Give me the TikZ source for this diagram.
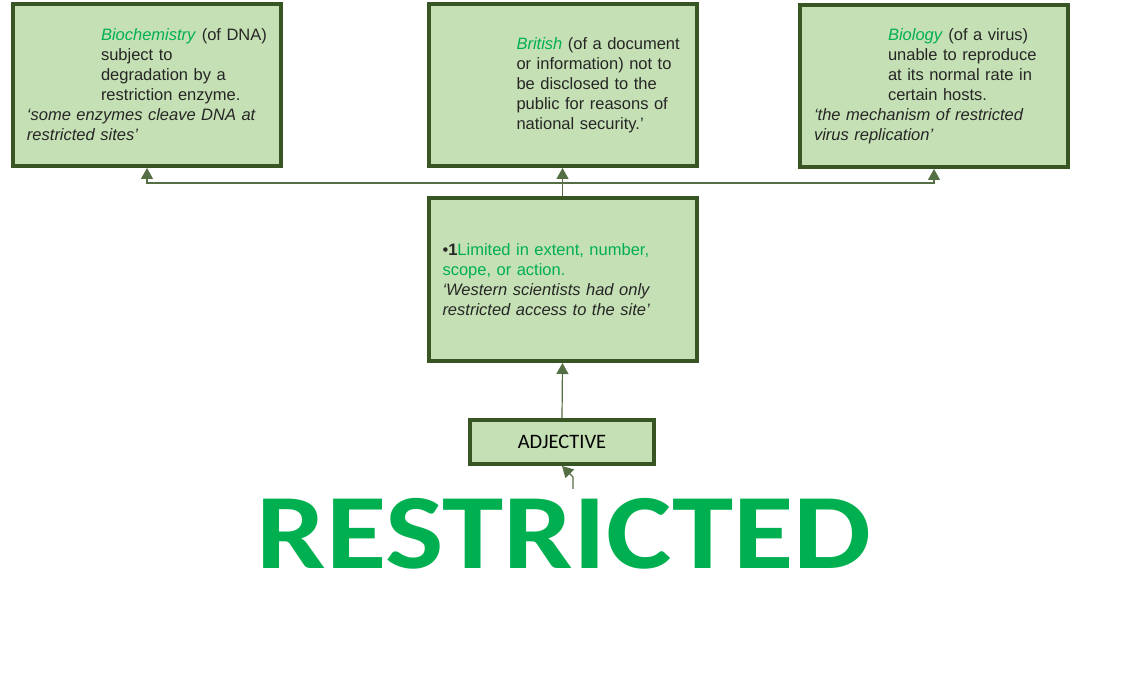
\documentclass[tikz,border=0pt]{standalone}
\usepackage{fontspec}
\setmainfont{Liberation Sans}
\newfontfamily\calibri{Carlito}
\usetikzlibrary{arrows.meta}

\definecolor{boxfill}{HTML}{C5E0B4}
\definecolor{boxline}{HTML}{375623}
\definecolor{wordgreen}{HTML}{00B050}
\definecolor{inkgray}{HTML}{262626}

\tikzset{
  sense/.style={draw=boxline, line width=4pt, fill=boxfill, text width=240pt, inner xsep=14pt,
    minimum height=162pt, align=left, text=inkgray, font=\fontsize{16.5}{20}\selectfont},
  conn/.style={draw=boxline!85, line width=1.2pt, -{Triangle[width=12pt,length=11pt]}},
}

\begin{document}
\begin{tikzpicture}[x=1pt, y=-1pt]
  \useasboundingbox (0,0) rectangle (1125,692);

  % indent of the definition lines
  \def\senseind{74pt}

  % the three senses on top
  \node[sense] (bio) at (147,85) {%
    \hspace*{\senseind}\textcolor{wordgreen}{\textit{Biochemistry}} (of DNA)\\
    \hspace*{\senseind}subject to\\
    \hspace*{\senseind}degradation by a\\
    \hspace*{\senseind}restriction enzyme.\\
    \textit{‘some enzymes cleave DNA at}\\
    \textit{restricted sites’}};

  \node[sense] (brit) at (562.5,85) {%
    \hspace*{\senseind}\textcolor{wordgreen}{\textit{British}} (of a document\\
    \hspace*{\senseind}or information) not to\\
    \hspace*{\senseind}be disclosed to the\\
    \hspace*{\senseind}public for reasons of\\
    \hspace*{\senseind}national security.’};

  \node[sense] (virus) at (934,86) {%
    \hspace*{\senseind}\textcolor{wordgreen}{\textit{Biology}} (of a virus)\\
    \hspace*{\senseind}unable to reproduce\\
    \hspace*{\senseind}at its normal rate in\\
    \hspace*{\senseind}certain hosts.\\
    \textit{‘the mechanism of restricted}\\
    \textit{virus replication’}};

  % main sense
  \node[sense, minimum height=163pt] (limited) at (562.5,279.5) {%
    \textbullet\textbf{1}\textcolor{wordgreen}{Limited in extent, number,}\\
    \textcolor{wordgreen}{scope, or action.}\\
    \textit{‘Western scientists had only}\\
    \textit{restricted access to the site’}};

  % word class
  \node[draw=boxline, line width=4pt, fill=boxfill, minimum width=184pt, minimum height=44pt,
    font=\calibri\fontsize{20.5}{24}\selectfont] (adj) at (562,442) {ADJECTIVE};

  % the word
  \node[inner sep=0pt, text=wordgreen, font=\calibri\bfseries\fontsize{107}{107}\selectfont]
    (word) at (564,534) {\scalebox{1.155}[1]{RESTRICTED}};

  % connectors
  \coordinate (hub) at (562.5,183);
  \draw[draw=boxline!85, line width=1.2pt] (limited.north) -- (hub);
  \foreach \b in {bio,brit,virus} {
    \draw[conn] (hub) -| (\b.south);
  }
  \draw[conn] (adj.north) -- (limited.south);

  \coordinate (wordtop) at (573,489);
  \draw[conn] (wordtop) -- ++(0,-12) -- (adj.south);

\end{tikzpicture}
\end{document}
